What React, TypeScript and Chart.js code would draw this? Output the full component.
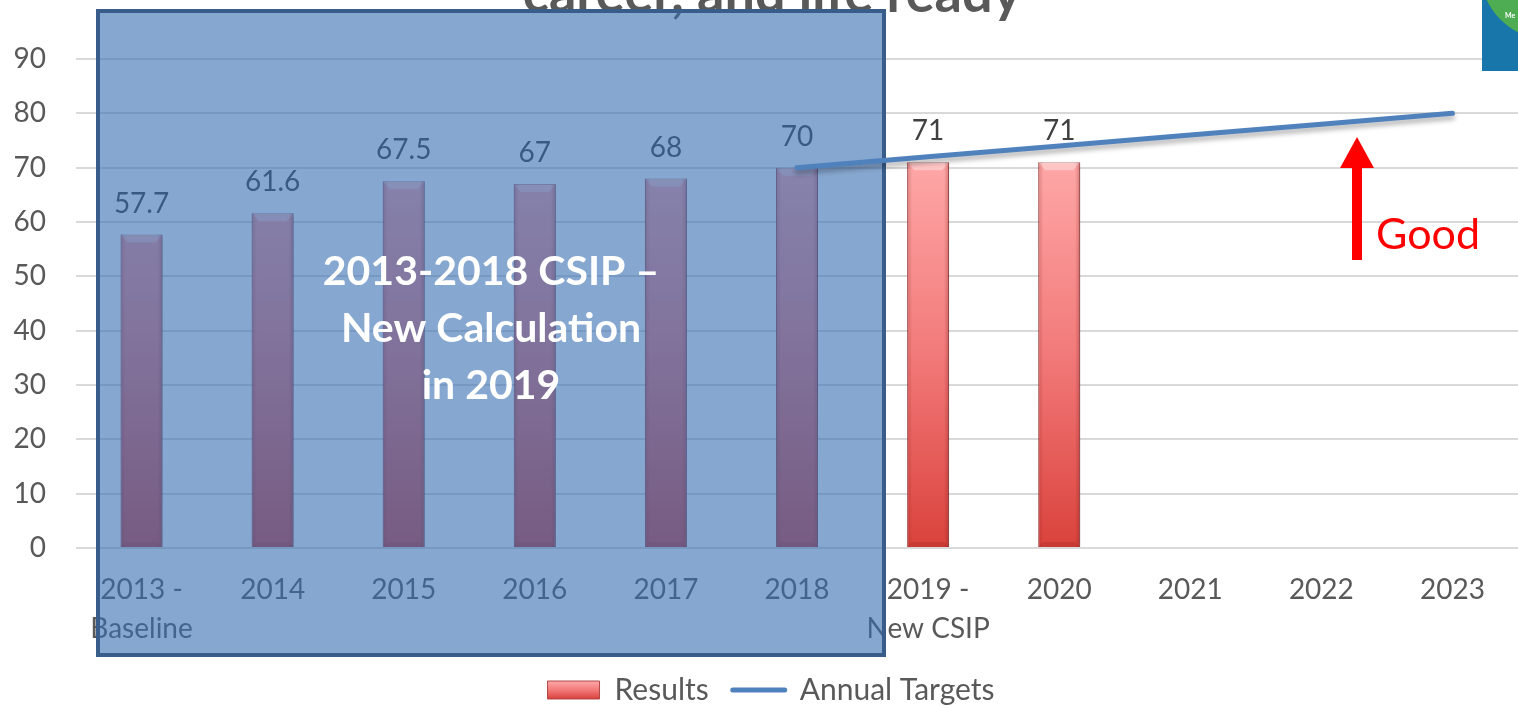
import { useEffect, useRef } from "react";
import { Chart, registerables } from "chart.js";

Chart.register(...registerables);

const categories: (string | string[])[] = [
  ["2013 -", "Baseline"],
  "2014",
  "2015",
  "2016",
  "2017",
  "2018",
  ["2019 -", "New CSIP"],
  "2020",
  "2021",
  "2022",
  "2023",
];
const results: (number | null)[] = [57.7, 61.6, 67.5, 67, 68, 70, 71, 71, null, null, null];
const targets: (number | null)[] = [null, null, null, null, null, 70, 72, 74, 76, 78, 80];
const seriesNames = ["Results", "Annual Targets"];
const yMin = 0;
const yMax = 90;
const yStep = 10;
const titleText = "career, and life ready";
const overlayLines = ["2013-2018 CSIP –", "New Calculation", "in 2019"];
const noteText = "Good";
const logoText = "Me";

const FONT = "Lato, 'Open Sans', 'Liberation Sans', sans-serif";
const TEXT = "#595959";

function redGradient(ctx: CanvasRenderingContext2D, y0: number, y1: number) {
  const g = ctx.createLinearGradient(0, y0, 0, y1);
  g.addColorStop(0, "rgb(255,168,168)");
  g.addColorStop(0.5, "rgb(242,122,122)");
  g.addColorStop(1, "rgb(218,66,60)");
  return g;
}

const decorPlugin = {
  id: "decor",
  afterLayout(chart: any) {
    const lg = chart.legend;
    if (lg) {
      lg.left += 12;
      lg.right += 12;
    }
  },
  beforeDatasetsDraw(chart: any) {
    const ctx = chart.ctx as CanvasRenderingContext2D;
    ctx.save();
    ctx.font = `bold 54px ${FONT}`;
    ctx.fillStyle = TEXT;
    ctx.textAlign = "center";
    ctx.textBaseline = "alphabetic";
    ctx.fillText(titleText, 772, 12);
    ctx.restore();
  },
  beforeDatasetDraw(chart: any, args: any) {
    const ctx = chart.ctx as CanvasRenderingContext2D;
    ctx.save();
    if (args.index === 0) {
      ctx.shadowColor = "rgba(0,0,0,0.25)";
      ctx.shadowBlur = 4;
      ctx.shadowOffsetX = 2;
      ctx.shadowOffsetY = 2;
    } else {
      ctx.shadowColor = "rgba(0,0,0,0.3)";
      ctx.shadowBlur = 5;
      ctx.shadowOffsetX = 0;
      ctx.shadowOffsetY = 4;
    }
  },
  afterDatasetDraw(chart: any, args: any) {
    const ctx = chart.ctx as CanvasRenderingContext2D;
    ctx.restore();
    if (args.index !== 0) return;
    const meta = chart.getDatasetMeta(0);
    meta.data.forEach((el: any, i: number) => {
      const v = results[i];
      if (v === null || v === undefined) return;
      const { x, y, base, width } = el.getProps(["x", "y", "base", "width"], true);
      const l = x - width / 2;
      const r = x + width / 2;
      ctx.save();
      ctx.fillStyle = "rgba(255,255,255,0.35)";
      ctx.beginPath();
      ctx.moveTo(l, y);
      ctx.lineTo(r, y);
      ctx.lineTo(r - 7, y + 8);
      ctx.lineTo(l + 7, y + 8);
      ctx.closePath();
      ctx.fill();
      const sg = ctx.createLinearGradient(l, 0, r, 0);
      sg.addColorStop(0, "rgba(120,20,20,0.25)");
      sg.addColorStop(0.12, "rgba(120,20,20,0)");
      sg.addColorStop(0.88, "rgba(120,20,20,0)");
      sg.addColorStop(1, "rgba(120,20,20,0.3)");
      ctx.fillStyle = sg;
      ctx.fillRect(l, y, width, base - y);
      ctx.fillStyle = "rgba(120,20,20,0.18)";
      ctx.beginPath();
      ctx.moveTo(l, base);
      ctx.lineTo(r, base);
      ctx.lineTo(r - 5, base - 5);
      ctx.lineTo(l + 5, base - 5);
      ctx.closePath();
      ctx.fill();
      ctx.restore();

      ctx.save();
      ctx.font = `28px ${FONT}`;
      ctx.fillStyle = "#404040";
      ctx.textAlign = "center";
      ctx.textBaseline = "middle";
      ctx.fillText(String(v), x, y - 31);
      ctx.restore();
    });
    ctx.save();
    ctx.fillStyle = "rgba(53,109,177,0.6)";
    ctx.fillRect(98, 11, 786, 644);
    ctx.strokeStyle = "#385D8A";
    ctx.lineWidth = 4;
    ctx.strokeRect(98, 11, 786, 644);
    ctx.font = `bold 41px ${FONT}`;
    ctx.fillStyle = "#FFFFFF";
    ctx.textAlign = "center";
    ctx.textBaseline = "middle";
    overlayLines.forEach((t, k) => ctx.fillText(t, 491, 272 + k * 57));
    ctx.restore();
  },
  afterDraw(chart: any) {
    const ctx = chart.ctx as CanvasRenderingContext2D;
    ctx.save();
    ctx.fillStyle = "#FF0000";
    ctx.fillRect(1352, 166, 10, 94);
    ctx.beginPath();
    ctx.moveTo(1340, 168);
    ctx.lineTo(1374, 168);
    ctx.lineTo(1357, 137);
    ctx.closePath();
    ctx.fill();
    ctx.font = `43px ${FONT}`;
    ctx.textAlign = "left";
    ctx.textBaseline = "alphabetic";
    ctx.fillText(noteText, 1376, 249);
    ctx.fillStyle = "rgb(24,118,170)";
    ctx.fillRect(1482, 0, 36, 71);
    ctx.beginPath();
    ctx.rect(1482, 0, 36, 71);
    ctx.clip();
    ctx.fillStyle = "rgb(78,172,82)";
    ctx.beginPath();
    ctx.arc(1550, -30, 70, 0, Math.PI * 2);
    ctx.fill();
    ctx.fillStyle = "#FFFFFF";
    ctx.font = `bold 7px ${FONT}`;
    ctx.fillText(logoText, 1505, 18);
    ctx.restore();
  },
};

export default function App() {
  const ref = useRef<HTMLCanvasElement | null>(null);
  useEffect(() => {
    document.body.style.margin = "0";
    const canvas = ref.current!;
    Chart.defaults.font.family = FONT;
    const chart = new Chart(canvas, {
      type: "bar",
      data: {
        labels: categories,
        datasets: [
          {
            type: "bar",
            label: seriesNames[0],
            data: results,
            order: 1,
            backgroundColor: (c: any) => {
              const ch = c.chart;
              if (!ch.chartArea) return "rgb(240,120,120)";
              const y = ch.scales.y;
              return redGradient(ch.ctx, y.getPixelForValue(72), y.getPixelForValue(0));
            },
            borderColor: "rgba(170,60,60,0.8)",
            borderWidth: 1,
            categoryPercentage: 1,
            barPercentage: 0.32,
          },
          {
            type: "line",
            label: seriesNames[1],
            data: targets,
            order: 0,
            borderColor: "#4F81BD",
            borderWidth: 5,
            borderCapStyle: "round",
            pointRadius: 0,
            tension: 0,
            fill: false,
          },
        ] as any,
      },
      options: {
        responsive: false,
        animation: false,
        events: [],
        layout: { padding: { top: 59, left: 0, right: 0, bottom: -7 } },
        scales: {
          x: {
            grid: { display: false, drawTicks: false },
            border: { display: false },
            ticks: {
              color: TEXT,
              font: { size: 28, lineHeight: 1.39 },
              padding: 23,
              autoSkip: false,
              maxRotation: 0,
              minRotation: 0,
            },
            afterFit: (s: any) => {
              s.height = 103;
            },
          },
          y: {
            min: yMin,
            max: yMax,
            grid: { color: "#D9D9D9", lineWidth: 2, drawTicks: false },
            border: { display: false },
            ticks: {
              stepSize: yStep,
              color: TEXT,
              font: { size: 28 },
              padding: 30,
            },
            afterFit: (s: any) => {
              s.width = 76;
            },
          },
        },
        plugins: {
          tooltip: { enabled: false },
          title: { display: false },
          legend: {
            display: true,
            position: "bottom",
            labels: {
              usePointStyle: true,
              pointStyleWidth: 52,
              boxHeight: 18,
              padding: 24,
              color: TEXT,
              font: { size: 30 },
              generateLabels: (ch: any) => {
                const H = ch.height;
                return [
                  {
                    text: seriesNames[0],
                    fillStyle: redGradient(ch.ctx, H - 27, H - 9),
                    strokeStyle: "rgba(170,60,60,0.9)",
                    lineWidth: 1,
                    pointStyle: "rect",
                    hidden: false,
                    datasetIndex: 0,
                    fontColor: TEXT,
                  },
                  {
                    text: seriesNames[1],
                    fillStyle: "#4F81BD",
                    strokeStyle: "#4F81BD",
                    lineWidth: 5,
                    lineCap: "round",
                    pointStyle: "line",
                    hidden: false,
                    datasetIndex: 1,
                    fontColor: TEXT,
                  },
                ];
              },
            },
          },
        },
      } as any,
      plugins: [decorPlugin as any],
    });
    return () => chart.destroy();
  }, []);
  return (
    <div style={{ width: 1518, height: 708, position: "relative", background: "#fff" }}>
      <canvas ref={ref} width={1518} height={708} style={{ display: "block", width: 1518, height: 708 }} />
    </div>
  );
}
